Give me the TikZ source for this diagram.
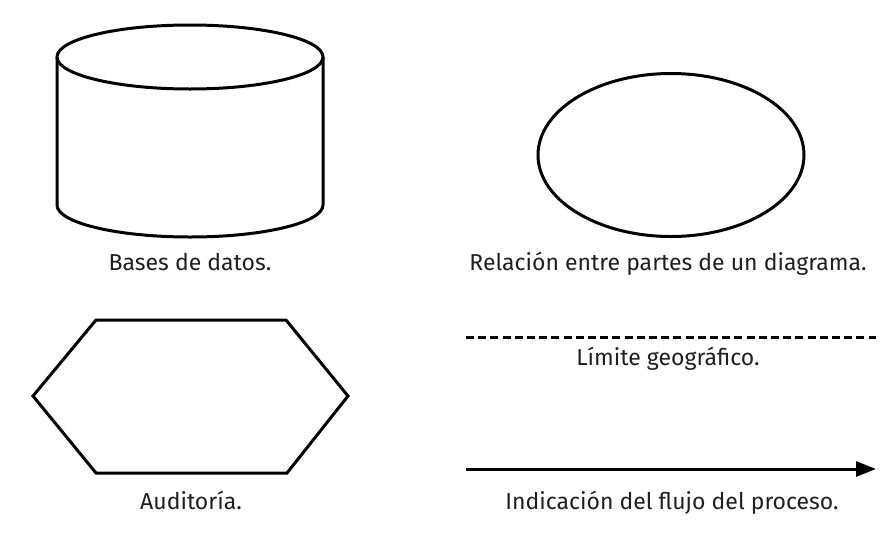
\documentclass[tikz,border=0pt]{standalone}
\usepackage{fontspec}
\setsansfont{Fira Sans}
\usetikzlibrary{arrows.meta, positioning, shapes.geometric}

\begin{document}
\begin{tikzpicture}[x=1pt, y=1pt, font=\sffamily\fontsize{23}{27}\selectfont,
    shp/.style={draw, line width=3pt},
    dashline/.style={draw, line width=3pt, dash pattern=on 8pt off 4.2pt},
    flow/.style={draw, line width=3pt, -{Triangle[length=20pt, width=15pt]}},
    lbl/.style={anchor=base, inner sep=0pt, text=black!88}]
  \useasboundingbox (0,0) rectangle (889,-536);

  % base de datos
  \draw[shp] (57,-57) -- (57,-205) arc[start angle=180, end angle=360, x radius=133, y radius=32] -- (323,-57);
  \draw[shp] (190,-57) ellipse[x radius=133, y radius=32];
  \node[lbl] (bd) at (190,-270) {Bases de datos.};

  % relacion
  \node[shp, ellipse, minimum width=266pt, minimum height=163pt] (rel) at (671,-155) {};
  \node[lbl] (reltxt) at (668,-270) {Relación entre partes de un diagrama.};

  % limite
  \coordinate (lim1) at (466,-337);
  \coordinate (lim2) at (876,-337);
  \draw[dashline] (lim1) -- (lim2);
  \node[lbl] (limtxt) at (668,-365) {Límite geográfico.};

  % auditoria
  \draw[shp] (33,-396) -- (96,-320) -- (286,-320) -- (348,-396) -- (287,-473) -- (96,-473) -- cycle;
  \node[lbl] (aud) at (191,-509) {Auditoría.};

  % flujo
  \coordinate (fl1) at (466,-469);
  \coordinate (fl2) at (876,-469);
  \draw[flow] (fl1) -- (fl2);
  \node[lbl] (fltxt) at (672,-509) {Indicación del flujo del proceso.};
\end{tikzpicture}
\end{document}
